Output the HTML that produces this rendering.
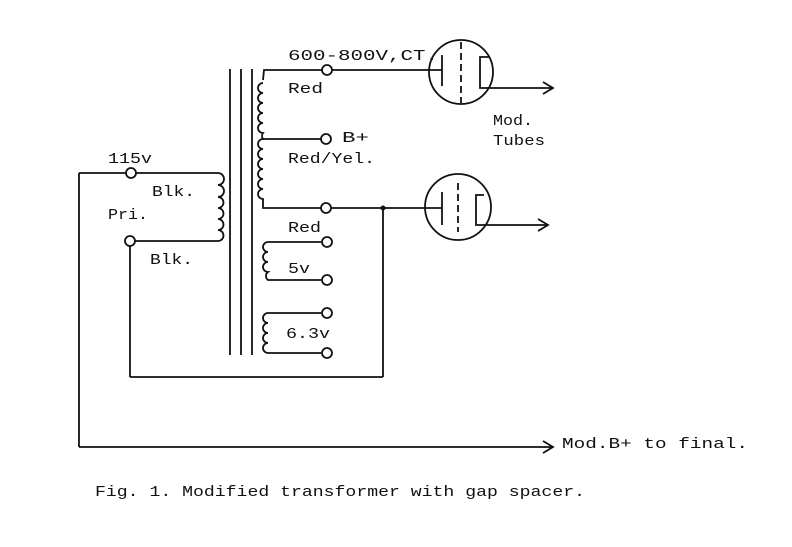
<!DOCTYPE html>
<html><head><style>
body{margin:0;background:#fff;}
svg{display:block;}
text{font-family:"Liberation Mono",monospace;font-size:15px;fill:#111;}
</style></head><body>
<svg width="792" height="547" viewBox="0 0 792 547" xmlns="http://www.w3.org/2000/svg">
<g stroke="#111" stroke-width="1.8" fill="none">
<line x1="230" y1="69" x2="230" y2="355"/>
<line x1="241" y1="69" x2="241" y2="355"/>
<line x1="252" y1="69" x2="252" y2="355"/>
<path d="M322,70 L264,70 L263,80 M263,83 a5,5 0 0 0 0,10 a5,5 0 0 0 0,10 a5,5 0 0 0 0,10 a5,5 0 0 0 0,10 a5,5 0 0 0 0,10 a5,5 0 0 0 0,6 a5,5 0 0 0 0,10 a5,5 0 0 0 0,10 a5,5 0 0 0 0,10 a5,5 0 0 0 0,10 a5,5 0 0 0 0,10 a5,5 0 0 0 0,10 L263,208 L321,208"/>
<line x1="263" y1="139" x2="321" y2="139"/>
<line x1="332" y1="70" x2="442" y2="70"/>
<line x1="331" y1="208" x2="442" y2="208"/>
<line x1="383" y1="208" x2="383" y2="377"/>
<line x1="130" y1="377" x2="383" y2="377"/>
<path d="M321,242 L268,242 a5,5 0 0 0 0,10 a5,5 0 0 0 0,10 a5,5 0 0 0 0,10 a5,5 0 0 0 0,8 L321,280"/>
<path d="M321,313 L268,313 a5,5 0 0 0 0,10 a5,5 0 0 0 0,10 a5,5 0 0 0 0,10 a5,5 0 0 0 0,10 L321,353"/>
<path d="M136,173 L218,173 a5,5 0 0 1 0,12 a5,5 0 0 1 0,12 a5,5 0 0 1 0,11 a5,5 0 0 1 0,11 a5,5 0 0 1 0,11 a5,5 0 0 1 0,11 L135,241"/>
<line x1="126" y1="173" x2="79" y2="173"/>
<line x1="79" y1="173" x2="79" y2="447"/>
<line x1="79" y1="447" x2="553" y2="447"/>
<path d="M543,441 L553,447 L543,453"/>
<line x1="130" y1="246" x2="130" y2="377"/>
<circle cx="327" cy="70" r="5" fill="#fff"/>
<circle cx="326" cy="139" r="5" fill="#fff"/>
<circle cx="326" cy="208" r="5" fill="#fff"/>
<circle cx="327" cy="242" r="5" fill="#fff"/>
<circle cx="327" cy="280" r="5" fill="#fff"/>
<circle cx="327" cy="313" r="5" fill="#fff"/>
<circle cx="327" cy="353" r="5" fill="#fff"/>
<circle cx="131" cy="173" r="5" fill="#fff"/>
<circle cx="130" cy="241" r="5" fill="#fff"/>
<circle cx="461" cy="72" r="32"/>
<line x1="442" y1="55" x2="442" y2="86"/>
<line x1="461" y1="42" x2="461" y2="103" stroke-dasharray="7,4"/>
<path d="M490,57 L480,57 L480,88 L553,88"/>
<path d="M543,82 L553,88 L543,94"/>
<circle cx="458" cy="207" r="33"/>
<line x1="442" y1="192" x2="442" y2="225"/>
<line x1="458" y1="183" x2="458" y2="232" stroke-dasharray="7,4"/>
<path d="M484,195 L476,195 L476,225 L548,225"/>
<path d="M538,219 L548,225 L538,231"/>
</g>
<circle cx="383" cy="208" r="2.5" fill="#111"/>
<text x="288" y="60" textLength="150" lengthAdjust="spacingAndGlyphs">600-800V,CT.</text>
<text x="288" y="93" textLength="35" lengthAdjust="spacingAndGlyphs">Red</text>
<text x="342" y="142" textLength="27" lengthAdjust="spacingAndGlyphs">B+</text>
<text x="288" y="163" textLength="87" lengthAdjust="spacingAndGlyphs">Red/Yel.</text>
<text x="108" y="163" textLength="44" lengthAdjust="spacingAndGlyphs">115v</text>
<text x="152" y="196" textLength="43" lengthAdjust="spacingAndGlyphs">Blk.</text>
<text x="108" y="219" textLength="40" lengthAdjust="spacingAndGlyphs">Pri.</text>
<text x="150" y="264" textLength="43" lengthAdjust="spacingAndGlyphs">Blk.</text>
<text x="288" y="232" textLength="33" lengthAdjust="spacingAndGlyphs">Red</text>
<text x="288" y="273" textLength="22" lengthAdjust="spacingAndGlyphs">5v</text>
<text x="286" y="338" textLength="44" lengthAdjust="spacingAndGlyphs">6.3v</text>
<text x="493" y="125" textLength="40" lengthAdjust="spacingAndGlyphs">Mod.</text>
<text x="493" y="145" textLength="52" lengthAdjust="spacingAndGlyphs">Tubes</text>
<text x="562" y="448" textLength="186" lengthAdjust="spacingAndGlyphs">Mod.B+ to final.</text>
<text x="95" y="496" textLength="490" lengthAdjust="spacingAndGlyphs">Fig. 1. Modified transformer with gap spacer.</text>
</svg>
</body></html>
